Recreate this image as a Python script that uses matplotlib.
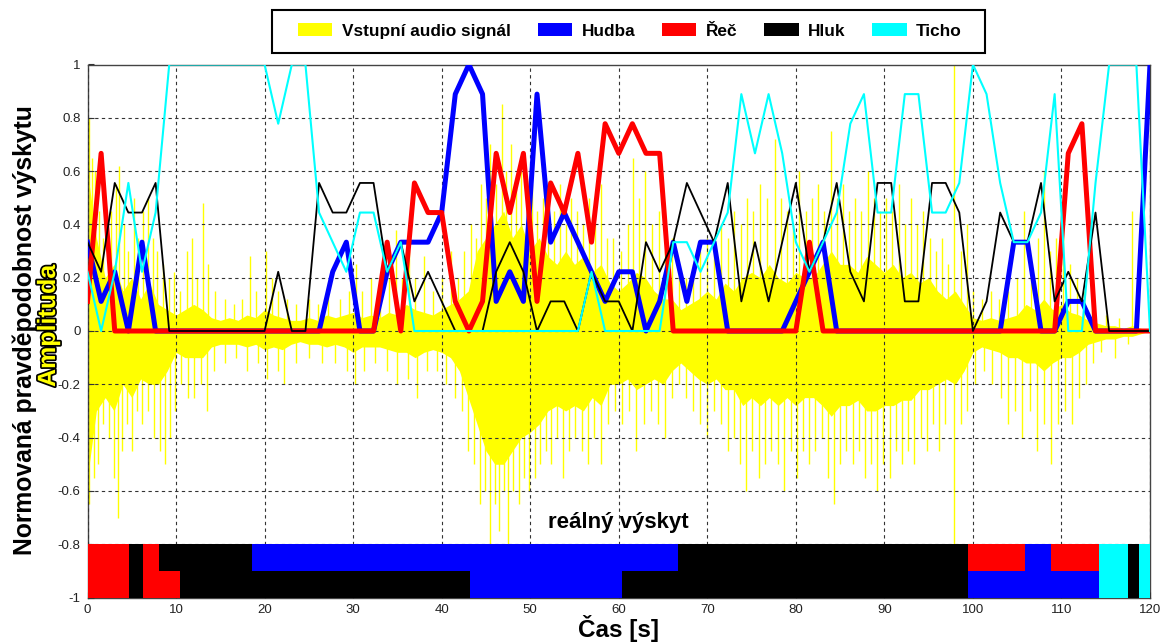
import numpy as np
import matplotlib
matplotlib.use("Agg")
import matplotlib.pyplot as plt
from matplotlib.patches import Patch, Rectangle
from matplotlib.ticker import MultipleLocator, FuncFormatter
import matplotlib.patheffects as pe

# classification results: votes out of 9 per analysis window (79 windows over 0-120 s)
n_win = 79
hudba = [3, 1, 2, 0, 3, 0, 0, 0, 0, 0, 0, 0, 0, 0, 0, 0, 0, 0, 2, 3,
         0, 0, 2, 3, 3, 3, 4, 8, 9, 8, 1, 2, 1, 8, 3, 4, 3, 2, 1, 2,
         2, 0, 1, 3, 1, 3, 3, 0, 0, 0, 0, 0, 1, 2, 3, 0, 0, 0, 0, 0,
         0, 0, 0, 0, 0, 0, 0, 0, 3, 3, 0, 0, 1, 1, 0, 0, 0, 0, 9]
rec = [1, 6, 0, 0, 0, 0, 0, 0, 0, 0, 0, 0, 0, 0, 0, 0, 0, 0, 0, 0,
       0, 0, 3, 0, 5, 4, 4, 1, 0, 1, 6, 4, 6, 1, 5, 4, 6, 3, 7, 6,
       7, 6, 6, 0, 0, 0, 0, 0, 0, 0, 0, 0, 0, 3, 0, 0, 0, 0, 0, 0,
       0, 0, 0, 0, 0, 0, 0, 0, 0, 0, 0, 0, 6, 7, 0, 0, 0, 0, 0]
hluk = [3, 2, 5, 4, 4, 5, 0, 0, 0, 0, 0, 0, 0, 0, 2, 0, 0, 5, 4, 4,
        5, 5, 2, 3, 1, 2, 1, 0, 0, 0, 2, 3, 2, 0, 1, 1, 0, 2, 1, 1,
        0, 3, 2, 3, 5, 4, 3, 5, 1, 3, 1, 3, 5, 2, 3, 5, 2, 1, 5, 5,
        1, 1, 5, 5, 4, 0, 1, 4, 3, 3, 5, 1, 2, 1, 4, 0, 0, 0, 0]
ticho = [2, 0, 2, 5, 2, 4, 9, 9, 9, 9, 9, 9, 9, 9, 7, 9, 9, 4, 3, 2,
         4, 4, 2, 3, 0, 0, 0, 0, 0, 0, 0, 0, 0, 0, 0, 0, 0, 2, 0, 0,
         0, 0, 0, 3, 3, 2, 3, 4, 8, 6, 8, 6, 3, 2, 3, 4, 7, 8, 4, 4,
         8, 8, 4, 4, 5, 9, 8, 5, 3, 3, 4, 8, 0, 0, 5, 9, 9, 9, 0]

# audio signal: dense body per second (0..120 s) and single peaks
body_top = [0.6, 0.35, 0.2, 0.25, 0.15, 0.2, 0.12, 0.18, 0.1, 0.08, 0.06, 0.08, 0.1, 0.08, 0.05,
            0.04, 0.05, 0.04, 0.06, 0.05, 0.08, 0.06, 0.05, 0.04, 0.04, 0.05, 0.04, 0.06, 0.05, 0.06,
            0.07, 0.05, 0.06, 0.05, 0.07, 0.06, 0.1, 0.08, 0.07, 0.06, 0.08, 0.1, 0.12, 0.15, 0.3,
            0.35, 0.4, 0.45, 0.35, 0.4, 0.3, 0.35, 0.28, 0.25, 0.3, 0.25, 0.28, 0.22, 0.25, 0.18,
            0.15, 0.18, 0.22, 0.2, 0.15, 0.12, 0.12, 0.08, 0.1, 0.12, 0.15, 0.12, 0.18, 0.15, 0.2,
            0.22, 0.2, 0.25, 0.2, 0.18, 0.22, 0.2, 0.2, 0.25, 0.3, 0.25, 0.25, 0.22, 0.28, 0.25,
            0.22, 0.25, 0.2, 0.22, 0.18, 0.2, 0.15, 0.12, 0.15, 0.1, 0.05, 0.04, 0.05, 0.04, 0.05,
            0.06, 0.1, 0.08, 0.12, 0.08, 0.1, 0.07, 0.06, 0.04, 0.03, 0.02, 0.02, 0.01, 0.02, 0.01, 0.0]
body_bot = [-0.55, -0.3, -0.25, -0.3, -0.2, -0.25, -0.18, -0.2, -0.2, -0.15, -0.08, -0.1, -0.1, -0.1, -0.06,
            -0.05, -0.05, -0.05, -0.06, -0.05, -0.07, -0.06, -0.07, -0.05, -0.04, -0.05, -0.05, -0.06, -0.05, -0.06,
            -0.08, -0.06, -0.06, -0.06, -0.07, -0.08, -0.08, -0.1, -0.08, -0.07, -0.08, -0.1, -0.15, -0.25, -0.35,
            -0.45, -0.5, -0.5, -0.45, -0.4, -0.38, -0.35, -0.3, -0.28, -0.3, -0.28, -0.3, -0.25, -0.28, -0.2,
            -0.2, -0.18, -0.22, -0.2, -0.18, -0.2, -0.15, -0.12, -0.15, -0.18, -0.2, -0.18, -0.22, -0.22, -0.28,
            -0.25, -0.28, -0.25, -0.28, -0.25, -0.28, -0.25, -0.25, -0.28, -0.32, -0.28, -0.28, -0.26, -0.3, -0.3,
            -0.28, -0.28, -0.26, -0.26, -0.22, -0.22, -0.2, -0.18, -0.2, -0.15, -0.08, -0.06, -0.07, -0.08, -0.1,
            -0.1, -0.12, -0.12, -0.15, -0.12, -0.1, -0.1, -0.08, -0.05, -0.04, -0.03, -0.03, -0.02, -0.02, -0.01, 0.0]
peak_t = [0.2, 0.5, 0.9, 1.3, 1.8, 2.3, 2.7, 3.2, 3.6, 4.1, 4.6, 5.2, 5.7, 6.3, 6.8, 7.4, 7.9, 8.5, 9.2, 9.8,
          10.5, 11.2, 11.8, 12.4, 13.0, 13.6, 14.4, 15.5, 16.5, 17.5, 18.3, 19.0, 20.2, 20.8, 21.5, 22.5,
          23.5, 25.0, 26.0, 27.2, 28.5, 29.5, 30.3, 31.0, 32.0, 33.0, 34.0, 34.8, 35.5, 36.3, 37.0, 38.0,
          39.0, 40.0, 41.0, 41.8, 42.5, 43.3, 43.9, 44.4, 45.0, 45.5, 46.1, 46.8, 47.3, 47.8, 48.4, 49.0,
          49.6, 50.2, 50.8, 51.4, 52.0, 52.7, 53.4, 54.0, 54.6, 55.3, 56.0, 56.6, 57.3, 58.0, 58.7, 59.4,
          60.2, 61.0, 61.6, 62.3, 63.0, 63.7, 64.5, 65.2, 66.0, 66.8, 67.6, 68.4, 69.2, 70.0, 70.8, 71.6,
          72.3, 73.0, 73.8, 74.5, 75.2, 76.0, 76.8, 77.6, 78.3, 79.0, 79.7, 80.4, 81.1, 81.8, 82.5, 83.2,
          84.0, 84.6, 85.3, 86.0, 86.7, 87.4, 88.1, 88.8, 89.5, 90.2, 90.9, 91.6, 92.3, 93.0, 93.7, 94.4,
          95.1, 95.8, 96.5, 97.2, 97.9, 98.6, 99.3, 100.0, 101.0, 102.0, 103.0, 104.0, 105.0, 105.8,
          106.6, 107.3, 108.0, 108.7, 109.4, 110.2, 111.0, 111.8, 112.6, 113.5, 115.0, 116.5, 118.0]
peak_v = [0.8, 0.65, 0.6, 0.45, 0.35, 0.3, 0.45, 0.55, 0.62, 0.4, 0.3, 0.5, 0.35, 0.45, 0.5, 0.35, 0.3, 0.25,
          0.2, 0.22, 0.15, 0.3, 0.35, 0.2, 0.48, 0.25, 0.15, 0.12, 0.1, 0.12, 0.28, 0.15, 0.3, 0.2, 0.15,
          0.12, 0.1, 0.12, 0.1, 0.18, 0.12, 0.15, 0.25, 0.15, 0.2, 0.15, 0.2, 0.38, 0.2, 0.3, 0.2, 0.28,
          0.15, 0.2, 0.3, 0.2, 0.3, 0.4, 0.35, 0.55, 0.5, 0.7, 0.55, 0.85, 0.6, 0.7, 0.55, 0.6, 0.5, 0.55,
          0.45, 0.5, 0.4, 0.45, 0.55, 0.4, 0.5, 0.45, 0.4, 0.5, 0.4, 0.55, 0.35, 0.35, 0.3, 0.4, 0.65,
          0.5, 0.6, 0.4, 0.45, 0.3, 0.35, 0.25, 0.2, 0.25, 0.3, 0.35, 0.3, 0.4, 0.35, 0.45, 0.4, 0.5,
          0.45, 0.55, 0.5, 0.72, 0.5, 0.45, 0.4, 0.6, 0.45, 0.5, 0.55, 0.45, 0.75, 0.5, 0.55, 0.45, 0.5,
          0.45, 0.6, 0.5, 0.45, 0.5, 0.45, 0.55, 0.4, 0.5, 0.4, 0.45, 0.35, 0.3, 0.35, 0.25, 1.0, 0.3,
          0.4, 0.15, 0.12, 0.15, 0.12, 0.15, 0.2, 0.45, 0.25, 0.35, 0.6, 0.3, 0.35, 0.4, 0.25, 0.2, 0.15,
          0.08, 0.06, 0.05, 0.45]
dip_t = [0.2, 0.7, 1.2, 1.8, 2.4, 3.0, 3.4, 3.9, 4.5, 5.0, 5.6, 6.2, 6.8, 7.5, 8.2, 8.7, 9.3, 9.9, 10.6,
         11.3, 12.0, 12.8, 13.5, 14.3, 15.5, 16.8, 18.0, 19.2, 20.3, 21.5, 22.2, 23.5, 25.0, 26.5, 28.0,
         29.3, 30.2, 31.2, 32.5, 33.8, 35.0, 36.2, 37.2, 38.3, 39.5, 40.5, 41.5, 42.3, 43.0, 43.7, 44.3,
         44.9, 45.5, 46.0, 46.5, 47.0, 47.5, 48.1, 48.7, 49.3, 49.9, 50.5, 51.1, 51.8, 52.4, 53.0, 53.7,
         54.4, 55.1, 55.8, 56.5, 57.2, 58.0, 58.8, 59.6, 60.4, 61.2, 62.0, 62.8, 63.6, 64.4, 65.2, 66.0,
         66.8, 67.6, 68.4, 69.2, 70.0, 70.8, 71.6, 72.3, 73.0, 73.7, 74.4, 75.1, 75.8, 76.5, 77.2, 78.0,
         78.7, 79.4, 80.1, 80.8, 81.5, 82.2, 82.9, 83.6, 84.3, 85.0, 85.7, 86.4, 87.1, 87.8, 88.5, 89.2,
         89.9, 90.6, 91.3, 92.0, 92.7, 93.4, 94.1, 94.8, 95.5, 96.2, 96.9, 97.9, 98.6, 99.3, 100.2,
         101.2, 102.2, 103.2, 104.0, 104.8, 105.6, 106.4, 107.2, 108.0, 108.8, 109.6, 110.4, 111.2,
         112.0, 112.8, 113.6, 114.5, 116.0, 117.5]
dip_v = [-0.65, -0.55, -0.5, -0.35, -0.4, -0.55, -0.7, -0.45, -0.35, -0.45, -0.3, -0.35, -0.3, -0.4, -0.45,
         -0.5, -0.4, -0.3, -0.2, -0.25, -0.25, -0.2, -0.3, -0.15, -0.12, -0.1, -0.15, -0.12, -0.18, -0.15,
         -0.2, -0.12, -0.1, -0.12, -0.12, -0.15, -0.2, -0.15, -0.12, -0.15, -0.2, -0.18, -0.25, -0.15,
         -0.15, -0.2, -0.25, -0.3, -0.45, -0.5, -0.65, -0.6, -0.8, -0.65, -0.75, -0.6, -0.8, -0.6, -0.65,
         -0.55, -0.6, -0.55, -0.5, -0.45, -0.5, -0.4, -0.55, -0.45, -0.4, -0.45, -0.5, -0.4, -0.5, -0.35,
         -0.3, -0.35, -0.3, -0.45, -0.35, -0.3, -0.35, -0.4, -0.25, -0.2, -0.25, -0.3, -0.35, -0.4, -0.3,
         -0.35, -0.45, -0.4, -0.5, -0.6, -0.45, -0.55, -0.5, -0.45, -0.5, -0.6, -0.45, -0.55, -0.45,
         -0.5, -0.45, -0.4, -0.55, -0.65, -0.5, -0.45, -0.5, -0.45, -0.55, -0.5, -0.6, -0.5, -0.55,
         -0.45, -0.5, -0.45, -0.5, -0.4, -0.45, -0.35, -0.45, -0.35, -0.8, -0.35, -0.3, -0.2, -0.15,
         -0.2, -0.25, -0.35, -0.3, -0.4, -0.3, -0.45, -0.35, -0.5, -0.35, -0.3, -0.35, -0.25, -0.2,
         -0.12, -0.08, -0.1, -0.05]

# reference labelling (two rows)
upper_edges = [0, 4.7, 6.3, 8.05, 18.6, 66.7, 99.5, 105.9, 108.8, 114.2, 117.5, 118.8, 120]
upper_cls = ['Řeč', 'Hluk', 'Řeč', 'Hluk', 'Hudba', 'Hluk', 'Řeč', 'Hudba', 'Řeč', 'Ticho', 'Hluk', 'Ticho']
lower_edges = [0, 4.7, 6.3, 10.5, 43.2, 60.4, 99.5, 114.2, 117.5, 118.8, 120]
lower_cls = ['Řeč', 'Hluk', 'Řeč', 'Hluk', 'Hudba', 'Hluk', 'Hudba', 'Ticho', 'Hluk', 'Ticho']

colors = {'Hudba': '#0000ff', 'Řeč': '#ff0000', 'Hluk': '#000000', 'Ticho': '#00ffff'}
yellow = '#ffff00'

plt.rcParams['font.family'] = ['Liberation Sans', 'DejaVu Sans']

fig = plt.figure(figsize=(11.6, 6.42), dpi=100)
ax = fig.add_axes([87.5 / 1160, 1 - 597.5 / 642, (1150 - 87.5) / 1160, (597.5 - 64.5) / 642])

t = np.linspace(0, 120, n_win)
body_t = np.arange(len(body_top))

ax.fill_between(body_t, body_bot, body_top, color=yellow, lw=0, zorder=1)
ax.vlines(peak_t, 0, peak_v, color=yellow, lw=1.0, zorder=1)
ax.vlines(dip_t, dip_v, 0, color=yellow, lw=1.0, zorder=1)

ax.plot(t, np.array(hudba) / 9, color=colors['Hudba'], lw=3.6, zorder=4)
ax.plot(t, np.array(rec) / 9, color=colors['Řeč'], lw=3.6, zorder=4)
ax.plot(t, np.array(hluk) / 9, color=colors['Hluk'], lw=1.3, zorder=4)
ax.plot(t, np.array(ticho) / 9, color=colors['Ticho'], lw=1.5, zorder=4)

for edges, cls, y0 in [(upper_edges, upper_cls, -0.9), (lower_edges, lower_cls, -1.0)]:
    segs = [(edges[i], edges[i + 1] - edges[i]) for i in range(len(cls))]
    ax.broken_barh(segs, (y0, 0.1), facecolors=[colors[c] for c in cls], lw=0, zorder=3)

ax.text(60, -0.72, 'reálný výskyt', ha='center', va='center', fontsize=16,
        fontweight='bold', zorder=5)

ax.set_xlim(0, 120)
ax.set_ylim(-1, 1)
ax.xaxis.set_major_locator(MultipleLocator(10))
ax.yaxis.set_major_locator(MultipleLocator(0.2))
ax.yaxis.set_major_formatter(FuncFormatter(lambda v, p: '%g' % round(v, 1)))
ax.tick_params(direction='in', length=4, labelsize=9.5, colors='#333333', labelcolor='#222222', pad=5)
ax.grid(True, color='#333333', ls=(0, (3, 3)), lw=0.8)
ax.set_axisbelow(False)
for s in ax.spines.values():
    s.set_color('#444444')
    s.set_linewidth(1.0)

fig.text(25 / 1160, 1 - 330 / 642, 'Normovaná pravděpodobnost výskytu', rotation=90,
         ha='center', va='center', fontsize=17.8, fontweight='bold')
fig.text(48 / 1160, 1 - 326 / 642, 'Amplituda', rotation=90, ha='center', va='center',
         fontsize=18, fontweight='bold', color=yellow,
         path_effects=[pe.withStroke(linewidth=2.5, foreground='black')])
fig.text(619 / 1160, 1 - 629 / 642, 'Čas [s]', ha='center', va='center', fontsize=17.5,
         fontweight='bold')

# legend frame drawn separately so the box can match the reference size
fig.patches.append(Rectangle((272 / 1160, 1 - 53 / 642), 713 / 1160, 43 / 642, transform=fig.transFigure,
                             facecolor='white', edgecolor='black', lw=1.5, zorder=5))
handles = [Patch(facecolor=yellow), Patch(facecolor=colors['Hudba']), Patch(facecolor=colors['Řeč']),
           Patch(facecolor=colors['Hluk']), Patch(facecolor=colors['Ticho'])]
labels = ['Vstupní audio signál', 'Hudba', 'Řeč', 'Hluk', 'Ticho']
leg = fig.legend(handles, labels, loc='center', mode='expand', ncol=5,
                 bbox_to_anchor=(298 / 1160, 1 - 45 / 642, 664 / 1160, 28 / 642),
                 frameon=False, prop={'weight': 'bold', 'size': 12.4},
                 handlelength=2.0, handleheight=0.76, handletextpad=0.55, borderpad=0,
                 borderaxespad=0)
leg.set_zorder(6)

fig.savefig('out.png', dpi=100, facecolor='white')
